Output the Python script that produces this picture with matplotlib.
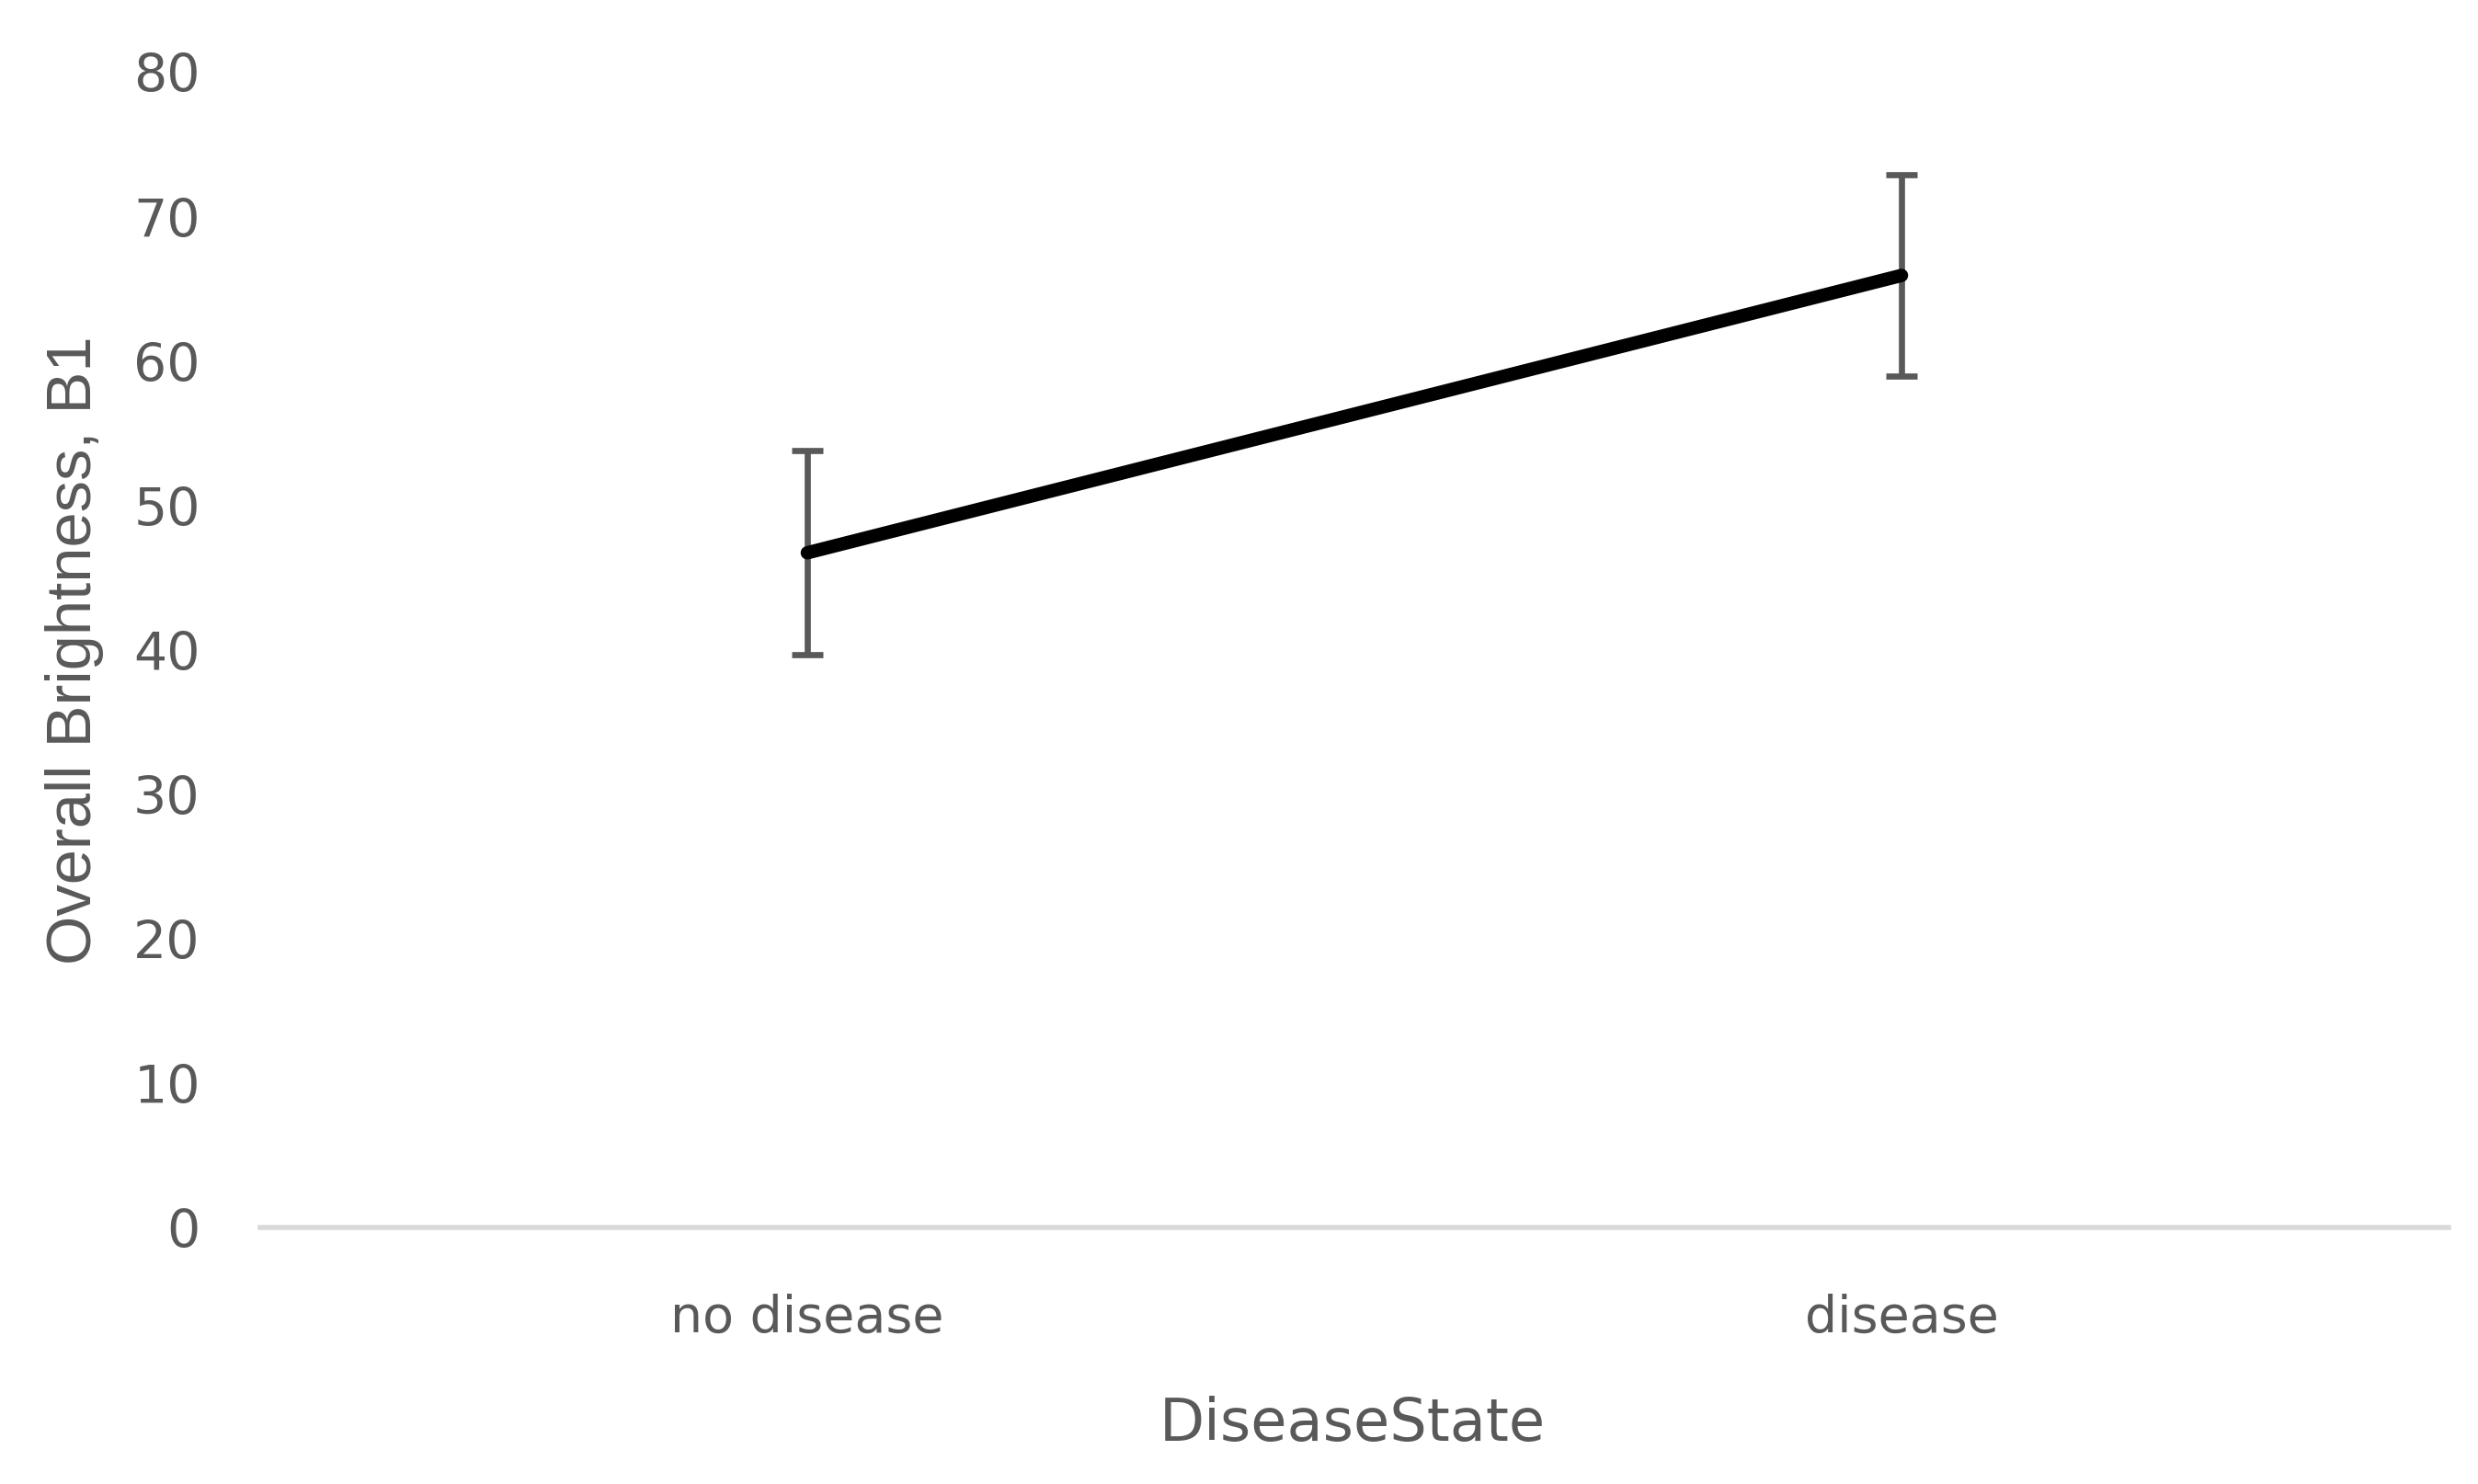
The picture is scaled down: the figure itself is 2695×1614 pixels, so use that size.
import matplotlib
matplotlib.use("Agg")
import matplotlib.pyplot as plt

categories = ["no disease", "disease"]
means = [46.7, 65.9]
errors = [7.05, 6.95]
yticks = [0, 10, 20, 30, 40, 50, 60, 70, 80]

GRAY = "#595959"
fig = plt.figure(figsize=(26.95, 16.15), dpi=100)
ax = fig.add_axes([283/2695, 1 - 1336/1615, 2380/2695, 1257/1615])

x = list(range(len(categories)))
ax.errorbar(x, means, yerr=errors, fmt="none", ecolor=GRAY, elinewidth=4.8,
            capsize=12, capthick=4.8, zorder=2)
ax.plot(x, means, color="black", linewidth=10.5, solid_capstyle="round", zorder=3)

ax.set_xlim(-0.5, 1.5)
ax.set_ylim(0, 80)
ax.set_yticks(yticks)
ax.set_xticks(x)
ax.set_xticklabels(categories, fontsize=40, color=GRAY)
ax.tick_params(axis="x", length=0, pad=51)
ax.tick_params(axis="y", length=0, pad=47, labelsize=41, labelcolor=GRAY)
for s in ["top", "right", "left"]:
    ax.spines[s].set_visible(False)
ax.spines["bottom"].set_color("#d9d9d9")
ax.spines["bottom"].set_linewidth(4)
ax.spines["bottom"].set_zorder(1)

ax.set_xlabel("DiseaseState", fontsize=46, color=GRAY)
ax.xaxis.set_label_coords(0.499, -0.1445)
ax.set_ylabel("Overall Brightness, B1", fontsize=49.5, color=GRAY,
              family=["Liberation Sans", "DejaVu Sans"])
ax.yaxis.set_label_coords(-0.0714, 0.5)

fig.savefig("out.png", dpi=100)
